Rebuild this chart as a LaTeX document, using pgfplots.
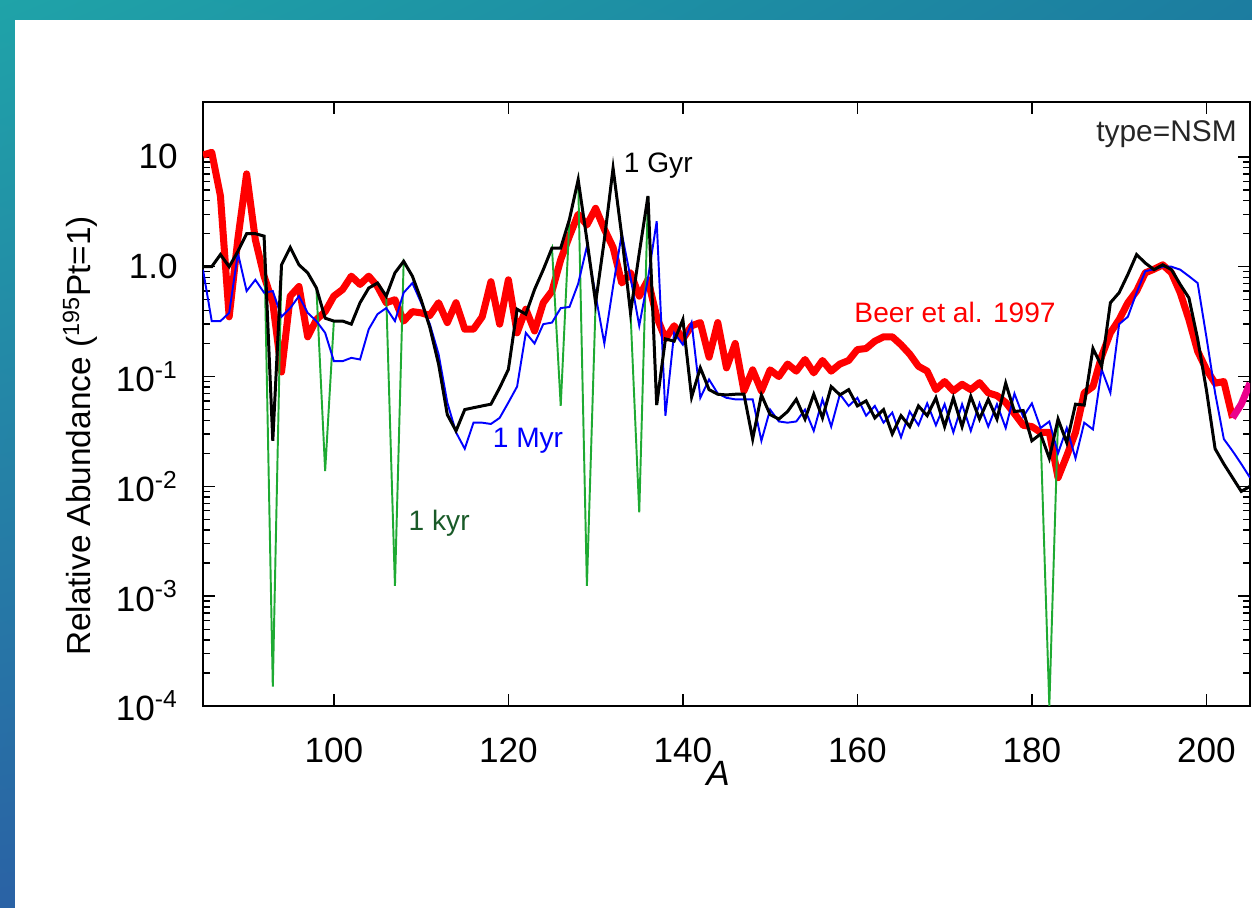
\documentclass[border=0pt]{standalone}
\usepackage{fontspec}
\setmainfont{Liberation Sans}
\usepackage{pgfplots}
\pgfplotsset{compat=1.18}
\usepackage{pgfplotstable}
\usetikzlibrary{shadings}

\definecolor{frameTL}{RGB}{31,163,168}
\definecolor{frameTR}{RGB}{28,125,160}
\definecolor{frameBL}{RGB}{42,98,165}
\definecolor{frameBR}{RGB}{30,85,150}
\definecolor{kyrgreen}{RGB}{30,170,50}
\definecolor{kyrtext}{RGB}{25,90,40}

% A, Beer et al. 1997, 1 Myr, 1 Gyr, 1 kyr
\pgfplotstableread{
A   beer   myr    gyr    kyr
85  10.4   0.94   1.0    1.0
86  11     0.32   1.0    1.0
87  4.4    0.32   1.29   1.29
88  0.35   0.38   1.0    1.0
89  1.8    1.33   1.38   1.38
90  7      0.6    2.0    2.0
91  1.76   0.76   2.0    2.0
92  0.82   0.58   1.9    1.9
93  0.47   0.6    0.026  0.00015
94  0.11   0.35   1.04   1.04
95  0.54   0.42   1.5    1.5
96  0.66   0.54   1.04   1.04
97  0.23   0.38   0.88   0.88
98  0.33   0.32   0.64   0.64
99  0.39   0.25   0.34   0.0138
100 0.54   0.138  0.32   0.32
101 0.62   0.138  0.32   0.32
102 0.82   0.148  0.30   0.30
103 0.69   0.143  0.47   0.47
104 0.82   0.27   0.64   0.64
105 0.66   0.37   0.71   0.71
106 0.47   0.42   0.54   0.54
107 0.5    0.32   0.88   0.00124
108 0.32   0.58   1.12   1.12
109 0.39   0.71   0.82   0.82
110 0.38   0.47   0.5    0.5
111 0.36   0.3    0.28   0.28
112 0.47   0.16   0.13   0.13
113 0.31   0.058  0.045  0.045
114 0.47   0.031  0.032  0.032
115 0.27   0.022  0.05   0.05
116 0.27   0.038  0.052  0.052
117 0.35   0.038  0.054  0.054
118 0.73   0.037  0.056  0.056
119 0.30   0.042  0.079  0.079
120 0.76   0.058  0.116  0.116
121 0.25   0.081  0.41   0.41
122 0.41   0.25   0.37   0.37
123 0.26   0.2    0.62   0.62
124 0.47   0.3    0.94   0.94
125 0.6    0.31   1.48   1.48
126 1.16   0.42   1.48   0.054
127 1.9    0.43   2.7    2.7
128 3.0    0.7    6.2    6.2
129 2.4    1.53   1.76   0.00124
130 3.4    0.55   0.47   0.47
131 2.2    0.2    1.76   1.76
132 1.5    0.66   7.9    7.9
133 0.71   2.0    1.9    1.9
134 0.88   0.8    0.38   0.38
135 0.54   0.29   1.33   0.0058
136 0.76   0.78   4.4    4.4
137 0.35   2.6    0.055  0.055
138 0.22   0.044  0.22   0.22
139 0.29   0.25   0.21   0.21
140 0.22   0.195  0.33   0.33
141 0.29   0.31   0.065  0.065
142 0.31   0.064  0.12   0.12
143 0.15   0.094  0.076  0.076
144 0.31   0.07   0.069  0.069
145 0.12   0.064  0.068  0.068
146 0.2    0.062  0.069  0.069
147 0.074  0.062  0.069  0.069
148 0.115  0.062  0.027  0.027
149 0.074  0.026  0.068  0.068
150 0.115  0.05   0.045  0.045
151 0.1    0.039  0.041  0.041
152 0.13   0.038  0.048  0.048
153 0.112  0.039  0.062  0.062
154 0.143  0.05   0.041  0.041
155 0.108  0.032  0.069  0.069
156 0.14   0.062  0.042  0.042
157 0.112  0.035  0.081  0.081
158 0.13   0.069  0.068  0.068
159 0.14   0.054  0.076  0.076
160 0.176  0.064  0.054  0.054
161 0.18   0.044  0.06   0.06
162 0.21   0.054  0.042  0.042
163 0.23   0.038  0.05   0.05
164 0.23   0.047  0.03   0.03
165 0.195  0.028  0.044  0.044
166 0.16   0.048  0.035  0.035
167 0.124  0.036  0.054  0.054
168 0.112  0.057  0.044  0.044
169 0.076  0.036  0.064  0.064
170 0.09   0.056  0.035  0.035
171 0.074  0.031  0.064  0.064
172 0.085  0.056  0.035  0.035
173 0.076  0.032  0.066  0.066
174 0.088  0.057  0.041  0.041
175 0.071  0.035  0.062  0.062
176 0.067  0.056  0.041  0.041
177 0.058  0.034  0.087  0.087
178 0.046  0.07   0.048  0.048
179 0.036  0.043  0.049  0.049
180 0.035  0.057  0.026  0.026
181 0.031  0.034  0.03   0.03
182 0.031  0.039  0.018  0.0001
183 0.012  0.02   0.041  0.041
184 0.019  0.034  0.025  0.025
185 0.031  0.018  0.056  0.056
186 0.071  0.038  0.055  0.055
187 0.081  0.033  0.18   0.18
188 0.153  0.116  0.124  0.124
189 0.25   0.071  0.47   0.47
190 0.33   0.3    0.58   0.58
191 0.47   0.35   0.85   0.85
192 0.6    0.58   1.29   1.29
193 0.88   0.91   1.08   1.08
194 0.95   0.95   0.94   0.94
195 1.04   1.0    1.04   1.04
196 0.88   1.0    0.94   0.94
197 0.58   0.94   0.69   0.69
198 0.33   0.82   0.52   0.52
199 0.17   0.71   0.22   0.22
200 0.116  0.23   0.076  0.076
201 0.087  0.071  0.022  0.022
202 0.09   0.027  0.016  0.016
203 0.042  0.021  0.012  0.012
204 nan    0.016  0.009  0.009
205 nan    0.012  0.01   0.01
}\abund

\begin{document}
\begin{tikzpicture}
% slide frame and white page (1 unit = 0.2 mm)
\useasboundingbox (0,0) rectangle (250.4mm,181.6mm);
\shade[upper left=frameTL, upper right=frameTR, lower left=frameBL, lower right=frameBR]
  (0,0) rectangle (250.4mm,181.6mm);
\fill[white] (3mm,0) rectangle (250.4mm,177.6mm);

\begin{axis}[
  at={(40.6mm,40.4mm)}, anchor=south west,
  width=209.4mm, height=120.8mm, scale only axis,
  xmin=85, xmax=205,
  ymode=log, ymin=1e-4, ymax=31.62,
  axis line style={line width=1.6pt},
  tick align=inside,
  xtick={100,120,140,160,180,200},
  xticklabels={100,120,140,160,180,200},
  ytick={1e-4,1e-3,1e-2,1e-1,1,10},
  yticklabels={10\textsuperscript{-4},10\textsuperscript{-3},10\textsuperscript{-2},10\textsuperscript{-1},1.0,10},
  major tick length=2.4mm, minor tick length=1.4mm,
  every tick/.style={black, line width=0.8pt},
  /pgf/number format/assume math mode=true,
  ticklabel style={font=\fontsize{20}{24}\selectfont, inner sep=0pt},
  yticklabel style={xshift=-5mm},
  xticklabel style={yshift=-6.4mm},
  xlabel={\textit{A}},
  xlabel style={at={(axis description cs:0.492,-0.111)}, anchor=center, font=\fontsize{20}{24}\selectfont},
  ylabel={Relative Abundance (\textsuperscript{195}Pt=1)},
  ylabel style={at={(axis description cs:-0.1175,0.447)}, anchor=center, font=\fontsize{19}{23}\selectfont},
  clip=true,
]
\addplot[red, line width=4pt, line join=round] table[x=A, y=beer] {\abund};
\addplot[kyrgreen, line width=1.1pt] table[x=A, y=kyr] {\abund};
\addplot[blue, line width=1.1pt] table[x=A, y=myr] {\abund};
\addplot[black, line width=1.7pt] table[x=A, y=gyr] {\abund};
\addplot[magenta, line width=4pt] coordinates {(203,0.042) (204,0.056) (205,0.087)};

\node[anchor=base east, inner sep=0pt, text=black!85, font=\fontsize{17}{20}\selectfont]
  at (axis description cs:0.9876,0.9354) {type=NSM};
\node[anchor=base west, inner sep=0pt, font=\fontsize{16}{19}\selectfont] at (axis cs:133.2,7.16) {1 Gyr};
\node[anchor=base west, inner sep=0pt, text=red, font=\fontsize{16}{19}\selectfont] at (axis cs:159.63,0.31) {Beer et al. 1997};
\node[anchor=base west, inner sep=0pt, text=blue, font=\fontsize{16}{19}\selectfont] at (axis cs:118.18,0.0226) {1 Myr};
\node[anchor=base west, inner sep=0pt, text=kyrtext, font=\fontsize{16}{19}\selectfont] at (axis cs:108.54,0.00398) {1 kyr};
\end{axis}
\end{tikzpicture}
\end{document}
